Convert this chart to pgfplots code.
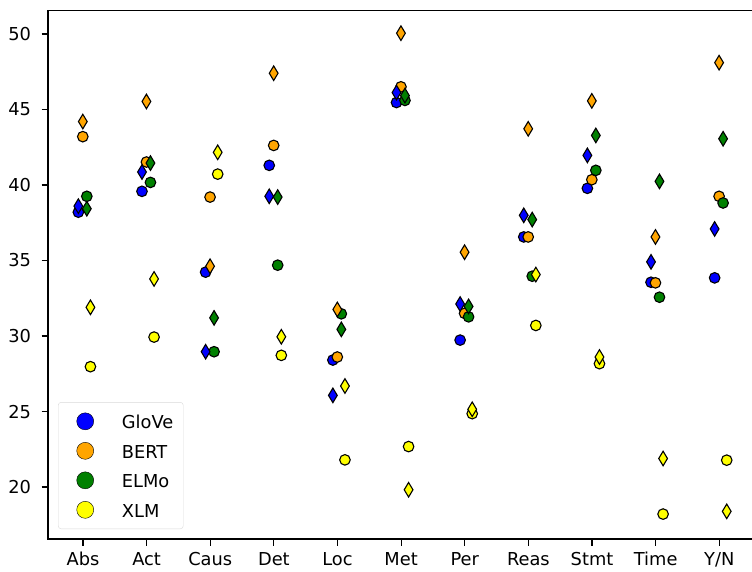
\documentclass[border=0pt]{standalone}
\usepackage{fontspec}
\setmainfont{DejaVu Sans}
\usepackage{pgfplots}
\usepackage{pgfplotstable}
\pgfplotsset{compat=1.18}
\definecolor{mblue}{RGB}{0,0,255}
\definecolor{morange}{RGB}{255,165,0}
\definecolor{mgreen}{RGB}{0,128,0}
\definecolor{myellow}{RGB}{255,255,0}

% x: category index (0=Abs ... 10=Y/N); circ: circle value; dia: diamond value
\pgfplotstableread{
x circ dia
0 38.20 38.60
1 39.58 40.86
2 34.23 28.96
3 41.30 39.25
4 28.41 26.07
5 45.46 46.12
6 29.73 32.12
7 36.56 37.99
8 39.78 41.96
9 33.56 34.91
10 33.85 37.09
}\glove
\pgfplotstableread{
x circ dia
0 43.20 44.20
1 41.52 45.53
2 39.20 34.62
3 42.62 47.40
4 28.61 31.76
5 46.50 50.05
6 31.50 35.55
7 36.56 43.72
8 40.35 45.57
9 33.52 36.56
10 39.25 48.10
}\bert
\pgfplotstableread{
x circ dia
0 39.25 38.43
1 40.17 41.45
2 28.96 31.20
3 34.69 39.20
4 31.47 30.44
5 45.60 45.92
6 31.27 31.96
7 33.96 37.71
8 40.97 43.28
9 32.57 40.24
10 38.81 43.06
}\elmo
\pgfplotstableread{
x circ dia
0 27.97 31.90
1 29.93 33.78
2 40.72 42.16
3 28.72 29.95
4 21.80 26.69
5 22.68 19.82
6 24.86 25.15
7 30.70 34.07
8 28.17 28.61
9 18.21 21.89
10 21.78 18.39
}\xlm

\pgfplotsset{
  circ/.style={only marks, mark=*, mark size=5.3pt, forget plot,
    mark options={draw=black, line width=1.1pt, fill=#1}},
  dia/.style={only marks, mark=diamond*, mark size=7.3pt, forget plot,
    mark options={draw=black, line width=1.1pt, fill=#1, xscale=0.8}},
}

\begin{document}
\begin{tikzpicture}
\begin{axis}[
  at={(48pt,32pt)}, anchor=south west,
  scale only axis, width=705pt, height=528.3pt,
  xmin=-0.55, xmax=10.53, ymin=16.56, ymax=51.54,
  xtick={0,...,10},
  xticklabels={Abs,Act,Caus,Det,Loc,Met,Per,Reas,Stmt,Time,Y/N},
  ytick={20,25,...,50},
  xtick pos=lower, ytick pos=left,
  tick align=outside, major tick length=6.5pt,
  tick style={line width=1.1pt, black},
  axis line style={line width=1.1pt, black},
  ticklabel style={font=\fontsize{17.8}{21}\selectfont},
  yticklabel style={xshift=-7pt},
  xticklabel style={yshift=-3pt},
  /pgf/number format/assume math mode=true,
  legend cell align=left,
  legend image code/.code={\path (0pt,0pt) -- (53.7pt,0pt); \draw[#1] plot coordinates {(17pt,1pt)};},
  legend style={at={(0.0142,0.0189)}, anchor=south west,
    draw=black!15, rounded corners=3pt, fill=white, fill opacity=0.8,
    text opacity=1, draw opacity=1,
    inner xsep=10pt, inner ysep=10.5pt, row sep=12.5pt,
    nodes={inner sep=0pt, text height=13pt, text depth=0pt},
    font=\fontsize{17.8}{21}\selectfont},
]
\addplot[circ=mblue] table[x expr=\thisrow{x}-0.073, y=circ]{\glove};
\addplot[circ=morange] table[x expr=\thisrow{x}-0.003, y=circ]{\bert};
\addplot[circ=mgreen] table[x expr=\thisrow{x}+0.06, y=circ]{\elmo};
\addplot[circ=myellow] table[x expr=\thisrow{x}+0.117, y=circ]{\xlm};
\addplot[dia=mblue] table[x expr=\thisrow{x}-0.073, y=dia]{\glove};
\addplot[dia=morange] table[x expr=\thisrow{x}-0.003, y=dia]{\bert};
\addplot[dia=mgreen] table[x expr=\thisrow{x}+0.06, y=dia]{\elmo};
\addplot[dia=myellow] table[x expr=\thisrow{x}+0.117, y=dia]{\xlm};

\addlegendimage{mark=*, mark size=8.5pt, draw=none, mark options={draw=none, fill=mblue, fill opacity=1}}
\addlegendentry{GloVe}
\addlegendimage{mark=*, mark size=8.5pt, draw=none, mark options={draw=none, fill=morange, fill opacity=1}}
\addlegendentry{BERT}
\addlegendimage{mark=*, mark size=8.5pt, draw=none, mark options={draw=none, fill=mgreen, fill opacity=1}}
\addlegendentry{ELMo}
\addlegendimage{mark=*, mark size=8.5pt, draw=none, mark options={draw=none, fill=myellow, fill opacity=1}}
\addlegendentry{XLM}
\end{axis}
\pgfresetboundingbox
\path (0,0) rectangle (752pt,571pt);
\end{tikzpicture}
\end{document}
